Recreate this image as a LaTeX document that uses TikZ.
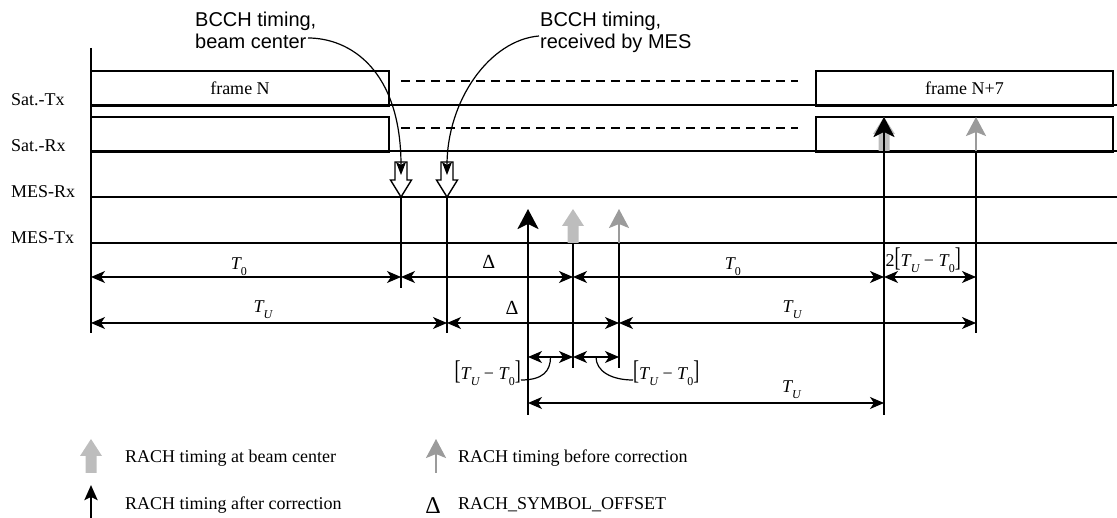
\documentclass[tikz,border=0pt]{standalone}
\usepackage{fontspec}
\usepackage{graphicx}
\setmainfont{Liberation Serif}
\newfontfamily\arialfont{Liberation Sans}
\usetikzlibrary{arrows.meta,calc}
\definecolor{beamgray}{HTML}{BDBDBD}
\definecolor{rachgray}{HTML}{9B9B9B}
\newcommand{\Tzero}{\textit{T}\kern-0.05em\raisebox{-0.28em}{\fontsize{12}{12}\selectfont 0}}
\newcommand{\TUsub}{\textit{T}\kern-0.05em\raisebox{-0.28em}{\fontsize{12}{12}\selectfont\itshape U}}
\newcommand{\tallbr}[1]{\scalebox{1}[1.5]{#1}}
\newcommand{\TUminusT}{\tallbr{[}\TUsub\kern0.25em−\kern0.25em\Tzero\tallbr{]}}

\tikzset{
  lane/.style={line width=1.3pt},
  timeline/.style={line width=1.5pt},
  boldline/.style={line width=2.6pt},
  framebox/.style={draw, line width=1.5pt, minimum height=34pt},
  gapline/.style={line width=1.3pt, dash pattern=on 9pt off 6pt},
  dimline/.style={{Stealth[length=14pt,width=12pt,inset=4pt]}-{Stealth[length=14pt,width=12pt,inset=4pt]}, line width=1.3pt},
  dimlabel/.style={anchor=base, yshift=8pt},
  deltalabel/.style={dimlabel, font=\fontsize{20}{20}\selectfont},
  pointer/.style={line width=1.2pt, -{Stealth[length=13pt,width=10pt,inset=3pt]}},
  afterarrow/.style={line width=2.8pt, -{Stealth[length=20pt,width=21pt,inset=5pt]}},
  beforearrow/.style={rachgray, line width=2.2pt, -{Stealth[length=19pt,width=20pt,inset=4pt]}},
  leadline/.style={line width=1.2pt},
  bcctext/.style={font=\arialfont\fontsize{20}{22}\selectfont, align=left},
  beamarrow/.pic={\fill[beamgray] (-5.5,0) -- (-5.5,-17) -- (-11,-17) -- (0,-34) -- (11,-17) -- (5.5,-17) -- (5.5,0) -- cycle;},
  bccarrow/.pic={\filldraw[fill=white, line width=1.4pt, line join=miter] (0,0) -- (-10.5,-17) -- (-6,-17) -- (-6,-35) -- (6,-35) -- (6,-17) -- (10.5,-17) -- cycle;}
}

\begin{document}
\begin{tikzpicture}[x=1pt,y=-1pt,inner sep=0pt,font=\fontsize{18}{22}\selectfont]
  \useasboundingbox (0,0) rectangle (1117,518);
  % lanes and rows
  \coordinate (satTx) at (0,105);
  \coordinate (satRx) at (0,151);
  \coordinate (mesRx) at (0,197);
  \coordinate (mesTx) at (0,243);
  \coordinate (rowA) at (0,277);
  \coordinate (rowB) at (0,323);
  \coordinate (rowC) at (0,357);
  \coordinate (rowD) at (0,403);
  % instants
  \coordinate (t0) at (91,48);
  \coordinate (bccA) at (401,0);
  \coordinate (bccB) at (447,0);
  \coordinate (rachA) at (528,0);
  \coordinate (rachC) at (573,0);
  \coordinate (rachB) at (619,0);
  \coordinate (nextA) at (884,0);
  \coordinate (nextB) at (976,0);
  \coordinate (tEnd) at (1117,0);

  \foreach \ln in {satTx,satRx,mesRx,mesTx}
    \draw[lane] (t0 |- \ln) -- (tEnd |- \ln);

  \node[anchor=base west] (labSatTx) at (11,106) {Sat.-Tx};
  \node[anchor=base west] (labSatRx) at (11,152) {Sat.-Rx};
  \node[anchor=base west] (labMesRx) at (11,198) {MES-Rx};
  \node[anchor=base west] (labMesTx) at (11,244) {MES-Tx};

  % frames
  \node[framebox, minimum width=298pt] (frameN) at (240,88) {frame N};
  \node[framebox, minimum width=298pt] (slotN) at (240,134) {};
  \node[framebox, minimum width=297pt] (frameM) at (964.5,88) {frame N+7};
  \node[framebox, minimum width=297pt] (slotM) at (964.5,134) {};
  \foreach \bx in {frameN,slotN,frameM,slotM}
    \draw[boldline] (\bx.south west) -- (\bx.south east);

  \coordinate (gapL) at (401,81);
  \coordinate (gapR) at (798,81);
  \draw[gapline] (gapL) -- (gapR);
  \draw[gapline] ([yshift=-47pt]gapL) -- ([yshift=-47pt]gapR);

  % time marks
  \draw[timeline] (t0) -- (t0 |- rowB) -- ++(0,10);
  \draw[timeline] (bccA |- mesRx) -- (bccA |- rowA) -- ++(0,11);
  \draw[timeline] (bccB |- mesRx) -- (bccB |- rowB) -- ++(0,10);
  \draw[timeline] (rachC |- mesTx) -- (rachC |- rowC) -- ++(0,11);
  \draw[timeline] (rachB |- mesTx) -- (rachB |- rowC) -- ++(0,11);
  \draw[timeline] (nextB |- satRx) -- (nextB |- rowB) -- ++(0,10);

  % BCCH timing
  \foreach \t in {bccA,bccB}
    \pic at (\t |- mesRx) {bccarrow};
  \node[bcctext, anchor=north west] (bccTxtA) at (195,12) {BCCH timing,\\beam center};
  \node[bcctext, anchor=north west] (bccTxtB) at (540,12) {BCCH timing,\\received by MES};
  \coordinate (fromA) at (308,38);
  \coordinate (fromB) at (539,36);
  \draw[pointer] (fromA) .. controls (350,38) and (401,70) .. ($(bccA |- mesRx)+(0,-22)$);
  \draw[pointer] (fromB) .. controls (490,40) and (447,100) .. ($(bccB |- mesRx)+(0,-22)$);

  % RACH timing
  \pic at (rachC |- mesTx) {beamarrow};
  \pic at (nextA |- satRx) {beamarrow};
  \draw[beforearrow] (rachB |- mesTx) -- ++(0,-34);
  \draw[beforearrow] (nextB |- satRx) -- ++(0,-34);
  \draw[afterarrow] (rachA |- rowD) ++(0,12) -- ++(0,-206);
  \draw[afterarrow] (nextA |- rowD) ++(0,12) -- ++(0,-298);

  % intervals
  \draw[dimline] (t0 |- rowA) -- (bccA |- rowA) node[dimlabel, pos=0.477, yshift=-1pt] (lT0a) {\Tzero};
  \draw[dimline] (bccA |- rowA) -- (rachC |- rowA) node[deltalabel, pos=0.51] (lDa) {Δ};
  \draw[dimline] (rachC |- rowA) -- (nextA |- rowA) node[dimlabel, pos=0.514, yshift=-1pt] (lT0b) {\Tzero};
  \draw[dimline] (nextA |- rowA) -- (nextB |- rowA) node[anchor=base west, pos=0, xshift=1pt, yshift=10pt] (lTwice) {2\TUminusT};
  \draw[dimline] (t0 |- rowB) -- (bccB |- rowB) node[dimlabel, pos=0.483, yshift=2pt] (lTUa) {\TUsub};
  \draw[dimline] (bccB |- rowB) -- (rachB |- rowB) node[deltalabel, pos=0.378] (lDb) {Δ};
  \draw[dimline] (rachB |- rowB) -- (nextB |- rowB) node[dimlabel, pos=0.485, yshift=2pt] (lTUb) {\TUsub};
  \draw[dimline] (rachA |- rowC) -- (rachC |- rowC);
  \draw[dimline] (rachC |- rowC) -- (rachB |- rowC);
  \draw[dimline] (rachA |- rowD) -- (nextA |- rowD) node[dimlabel, pos=0.74, yshift=2pt] (lTUc) {\TUsub};

  \node[anchor=base east] (lblL) at (521,380) {\TUminusT};
  \node[anchor=base west] (lblR) at (633,380) {\TUminusT};
  \coordinate (midL) at ($(rachA |- rowC)!0.5!(rachC |- rowC)$);
  \coordinate (midR) at ($(rachC |- rowC)!0.5!(rachB |- rowC)$);
  \draw[leadline] (lblL.base east) .. controls +(22,0) and +(0,14) .. (midL);
  \draw[leadline] (midR) .. controls +(0,14) and +(-22,0) .. (lblR.base west);

  % legend
  \coordinate (keyBeam) at (91,473);
  \coordinate (keyAfter) at (91,518);
  \coordinate (keyBefore) at (436,473);
  \pic at (keyBeam) {beamarrow};
  \draw[afterarrow, -{Stealth[length=15pt,width=13pt,inset=3pt]}] (keyAfter) -- ++(0,-33);
  \draw[beforearrow] (keyBefore) -- ++(0,-34);
  \node[anchor=base west] (keyBeamTxt) at (125,463) {RACH timing at beam center};
  \node[anchor=base west] (keyAfterTxt) at (125,510) {RACH timing after correction};
  \node[anchor=base west] (keyBeforeTxt) at (458,463) {RACH timing before correction};
  \node[anchor=base, font=\fontsize{24}{24}\selectfont] (keyDelta) at (433,513) {Δ};
  \node[anchor=base west] (keyDeltaTxt) at (458,510) {RACH\_SYMBOL\_OFFSET};
\end{tikzpicture}
\end{document}
